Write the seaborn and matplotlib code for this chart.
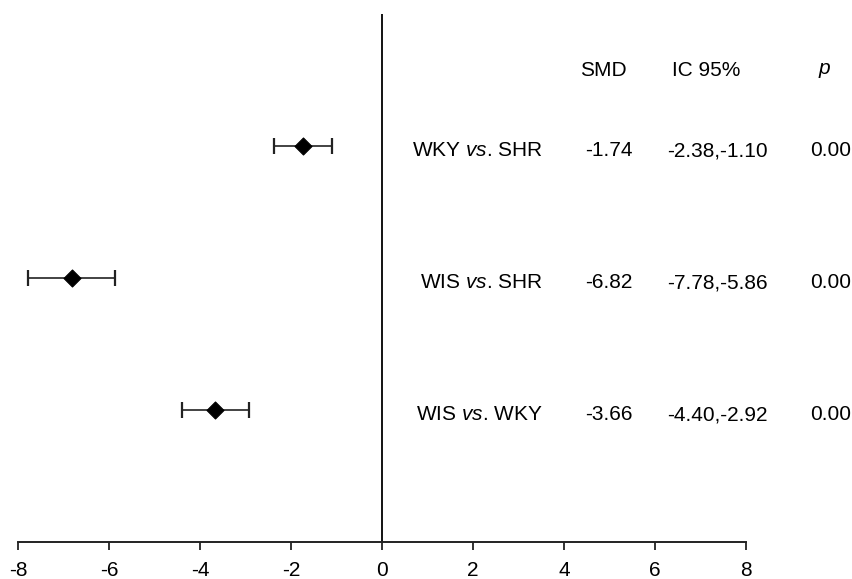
import matplotlib
matplotlib.use("Agg")
import matplotlib.pyplot as plt
import seaborn as sns
import pandas as pd

# Data
comparisons = ["WKY $vs$. SHR", "WIS $vs$. SHR", "WIS $vs$. WKY"]
smd = [-1.74, -6.82, -3.66]
ci_low = [-2.38, -7.78, -4.40]
ci_high = [-1.10, -5.86, -2.92]
p_values = [0.00, 0.00, 0.00]
row_pos = [3, 2, 1]
x_ticks = [-8, -6, -4, -2, 0, 2, 4, 6, 8]

sns.set_theme(style="white")
plt.rcParams['font.family'] = ['Liberation Sans', 'DejaVu Sans']
plt.rcParams['mathtext.fontset'] = 'custom'
plt.rcParams['mathtext.rm'] = 'Liberation Sans'
plt.rcParams['mathtext.it'] = 'Liberation Sans:italic'
plt.rcParams['axes.unicode_minus'] = False
plt.rcParams['text.color'] = 'black'
plt.rcParams['xtick.color'] = 'black'

df = pd.DataFrame({"label": comparisons, "smd": smd, "lo": ci_low,
                   "hi": ci_high, "p": p_values, "y": row_pos})

fig = plt.figure(figsize=(8.53, 5.79), dpi=100)
ax = fig.add_axes([0.0211, 0.0639, 0.8535, 0.912])

# confidence intervals
ax.errorbar(df["smd"], df["y"],
            xerr=[df["smd"] - df["lo"], df["hi"] - df["smd"]],
            fmt="none", ecolor="#222222", elinewidth=1.2, capsize=5.8, capthick=1.6)
sns.scatterplot(data=df, x="smd", y="y", marker="D", s=75, color="black",
                edgecolor="black", linewidth=0.8, ax=ax, zorder=3)

ax.axvline(0, color="black", lw=1.3)

ax.set_xlim(-8, 8)
ax.set_ylim(0, 4)
ax.set_xticks(x_ticks)
ax.set_xticklabels([str(t) for t in x_ticks])
ax.set_yticks([])
ax.set_xlabel("")
ax.set_ylabel("")
for side in ["left", "right", "top"]:
    ax.spines[side].set_visible(False)
ax.spines["bottom"].set_color("#222222")
ax.spines["bottom"].set_linewidth(1.4)
ax.tick_params(axis="x", direction="out", length=6, width=1.3, color="#222222",
               labelsize=15, pad=8, bottom=True)

# header and table text
fs = 15
head_y = 3.57
ax.text(4.87, head_y, "SMD", ha="center", va="center", fontsize=fs, clip_on=False)
ax.text(7.12, head_y, "IC 95%", ha="center", va="center", fontsize=fs, clip_on=False)
ax.text(9.73, head_y, "$p$", ha="center", va="center", fontsize=fs, clip_on=False)

for _, r in df.iterrows():
    ty = r["y"] - 0.035
    ax.text(3.54, ty, r["label"], ha="right", va="center", fontsize=fs, clip_on=False)
    ax.text(4.98, ty, f"{r['smd']:.2f}", ha="center", va="center", fontsize=fs, clip_on=False)
    ax.text(7.38, ty, f"{r['lo']:.2f},{r['hi']:.2f}", ha="center", va="center",
            fontsize=fs, clip_on=False)
    ax.text(9.87, ty, f"{r['p']:.2f}", ha="center", va="center", fontsize=fs, clip_on=False)

fig.savefig("out.png", dpi=100)
plt.close(fig)
